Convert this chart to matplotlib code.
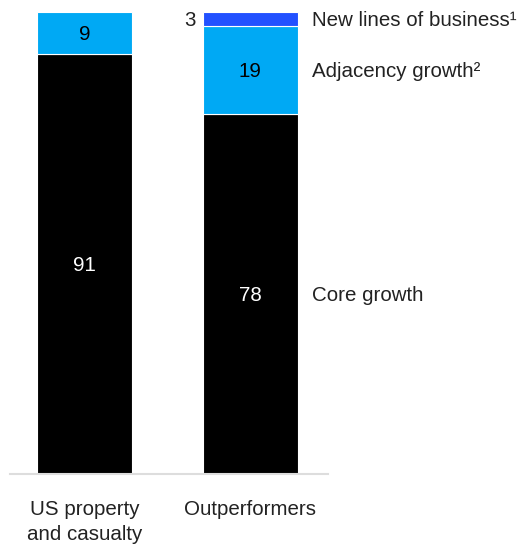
import matplotlib
matplotlib.use("Agg")
import matplotlib.pyplot as plt
import numpy as np

plt.rcParams['font.family'] = ['Liberation Sans', 'DejaVu Sans']

categories = ['US property\nand casualty', 'Outperformers']
core = np.array([91, 78])
adjacency = np.array([9, 19])
new_lines = np.array([0, 3])
series_labels = ['Core growth', 'Adjacency growth²', 'New lines of business¹']

black = '#000000'
light_blue = '#00A9F4'
blue = '#2251FF'

fig = plt.figure(figsize=(5.18, 5.46), dpi=100)
ax = fig.add_axes([10 / 518, 72 / 546, 318 / 518, 462 / 546])

x = np.arange(len(categories))
w = 0.574
fs = 14.8

ax.bar(x, core, w, color=black, edgecolor='white', linewidth=0.8)
ax.bar(x, adjacency, w, bottom=core, color=light_blue, edgecolor='white', linewidth=0.8)
ax.bar(x[1:], new_lines[1:], w, bottom=(core + adjacency)[1:], color=blue,
       edgecolor='white', linewidth=0.8)

# values inside segments
for i in x:
    ax.text(i, core[i] / 2, str(core[i]), ha='center', va='center_baseline',
            color='white', fontsize=fs)
    ax.text(i, core[i] + adjacency[i] / 2, str(adjacency[i]), ha='center',
            va='center_baseline', color='black', fontsize=fs)
# small segment value to the left
ax.text(1 - w / 2 - 0.045, core[1] + adjacency[1] + new_lines[1] / 2, str(new_lines[1]),
        ha='right', va='center_baseline', color='#222222', fontsize=fs)

# series labels on the right
lx = 1 + w / 2 + 0.09
mids = [core[1] / 2, core[1] + adjacency[1] / 2, core[1] + adjacency[1] + new_lines[1] / 2]
for lab, m in zip(series_labels, mids):
    ax.text(lx, m, lab, ha='left', va='center_baseline', color='#222222', fontsize=fs,
            clip_on=False)

ax.set_xlim(-0.450, 1.471)
ax.set_ylim(0, 100)
ax.set_xticks(x)
ax.set_xticklabels(categories, fontsize=fs, color='#222222', linespacing=1.38)
ax.tick_params(axis='x', length=0, pad=19)
ax.set_yticks([])
for s in ['top', 'right', 'left']:
    ax.spines[s].set_visible(False)
ax.spines['bottom'].set_color('#dddddd')
ax.spines['bottom'].set_linewidth(1.5)
ax.set_facecolor('none')

fig.savefig('out.png', dpi=100)
